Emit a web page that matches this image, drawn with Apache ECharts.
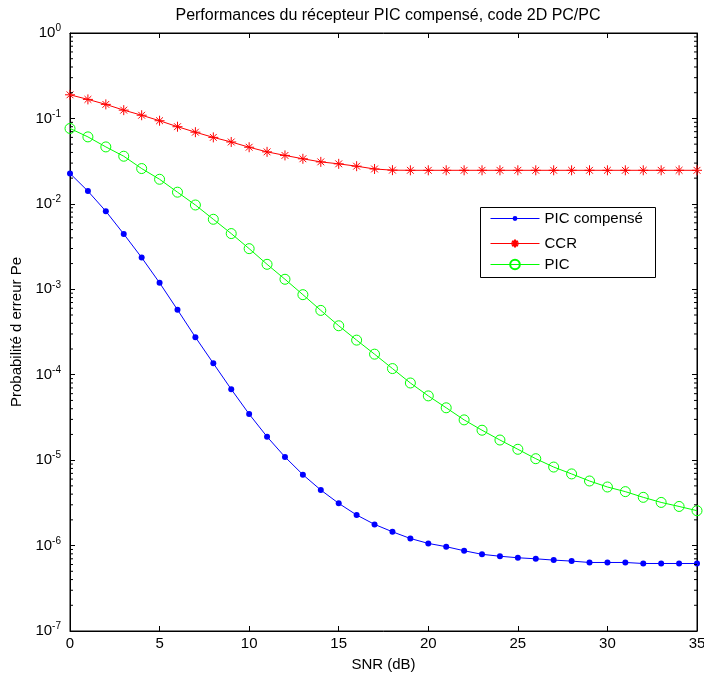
<!DOCTYPE html>
<html>
<head>
<meta charset="utf-8">
<script src="https://cdn.jsdelivr.net/npm/echarts@6/dist/echarts.min.js"></script>
<style>html,body{margin:0;padding:0;background:#fff}#c{width:704px;height:673px}</style>
</head>
<body>
<div id="c"></div>
<script>
const snr = [0,1,2,3,4,5,6,7,8,9,10,11,12,13,14,15,16,17,18,19,20,21,22,23,24,25,26,27,28,29,30,31,32,33,34,35];
const picComp = [0.0227,0.0141,0.0082,0.00444,0.00235,0.00119,5.76e-4,2.75e-4,1.36e-4,6.76e-5,3.46e-5,1.88e-5,1.09e-5,6.76e-6,4.47e-6,3.12e-6,2.28e-6,1.77e-6,1.45e-6,1.21e-6,1.06e-6,9.7e-7,8.7e-7,7.9e-7,7.5e-7,7.2e-7,7.0e-7,6.76e-7,6.58e-7,6.34e-7,6.34e-7,6.34e-7,6.17e-7,6.17e-7,6.17e-7,6.17e-7];
const ccr = [0.189,0.167,0.146,0.125,0.109,0.094,0.080,0.069,0.060,0.053,0.046,0.0406,0.0369,0.0337,0.0310,0.0294,0.0276,0.0256,0.0248,0.0247,0.0247,0.0247,0.0247,0.0247,0.0247,0.0247,0.0247,0.0247,0.0247,0.0247,0.0247,0.0247,0.0247,0.0247,0.0247,0.0247];
const pic = [0.0763,0.0608,0.0464,0.0361,0.0259,0.0194,0.0137,0.0097,0.0066,0.00449,0.00299,0.00196,0.00131,8.65e-4,5.66e-4,3.74e-4,2.54e-4,1.74e-4,1.18e-4,8.0e-5,5.65e-5,4.1e-5,2.96e-5,2.24e-5,1.72e-5,1.34e-5,1.04e-5,8.3e-6,6.9e-6,5.7e-6,4.85e-6,4.28e-6,3.67e-6,3.2e-6,2.87e-6,2.56e-6];
const seriesNames = ['PIC compensé', 'CCR', 'PIC'];
const xTicks = [0,5,10,15,20,25,30,35];
const yExponents = [0,-1,-2,-3,-4,-5,-6,-7];
const minorMantissas = [2,3,4,5,6,7,8,9];

const minorTickValues = [];
for (let e = -7; e < 0; e++) minorMantissas.forEach(m => minorTickValues.push(m * Math.pow(10, e)));

const FONT = 'Liberation Sans, Arial, sans-serif';
const chart = echarts.init(document.getElementById('c'), null, {renderer: 'canvas'});

function pairs(arr) { return snr.map((x, i) => [x, arr[i]]); }

const starPath = 'path://M5 0 L5 10 M0 5 L10 5 M1.6 1.6 L8.4 8.4 M8.4 1.6 L1.6 8.4';

const yLabelFmt = v => '10{s|' + Math.round(Math.log10(v)) + '}';

function legendFor(name, top, h) {
  return {
    orient: 'vertical', left: 490, top: top, padding: 0,
    itemWidth: 49, itemHeight: h, z: 20,
    lineStyle: {width: 1},
    textStyle: {fontFamily: FONT, fontSize: 15, color: '#000'},
    data: [name]
  };
}

chart.setOption({
  animation: false,
  backgroundColor: '#fff',
  title: {
    text: 'Performances du récepteur PIC compensé, code 2D PC/PC',
    left: 383, top: 3, textAlign: 'center',
    textStyle: {fontFamily: FONT, fontSize: 16, fontWeight: 'normal', color: '#000'}
  },
  graphic: [{
    type: 'rect', left: 480, top: 207, z: 10,
    shape: {width: 175, height: 70},
    style: {fill: '#fff', stroke: '#000', lineWidth: 1}
  }],
  legend: [
    legendFor(seriesNames[0], 211, 6),
    legendFor(seriesNames[1], 236, 10),
    legendFor(seriesNames[2], 257, 12)
  ],
  grid: {left: 70, right: 7, top: 33, bottom: 42, outerBoundsMode: 'none', containLabel: false,
         show: true, borderColor: '#000', borderWidth: 1},
  xAxis: [{
    type: 'value', min: 0, max: 35, interval: 5,
    name: 'SNR (dB)', nameLocation: 'middle', nameGap: 26,
    nameTextStyle: {fontFamily: FONT, fontSize: 15, color: '#000'},
    axisLine: {onZero: false, lineStyle: {color: '#000', width: 1}},
    axisTick: {inside: true, length: 5, lineStyle: {color: '#000'}},
    axisLabel: {fontFamily: FONT, fontSize: 15, color: '#000', margin: 5},
    splitLine: {show: false}
  }, {
    type: 'value', min: 0, max: 35, interval: 5, position: 'top',
    axisLine: {onZero: false, lineStyle: {color: '#000'}},
    axisTick: {inside: true, length: 5, lineStyle: {color: '#000'}},
    axisLabel: {show: false}, splitLine: {show: false}
  }],
  yAxis: [{
    type: 'log', logBase: 10, min: 1e-7, max: 1,
    name: 'Probabilité d erreur Pe', nameLocation: 'middle', nameGap: 43, nameRotate: 90,
    nameTextStyle: {fontFamily: FONT, fontSize: 15, color: '#000'},
    axisLine: {onZero: false, lineStyle: {color: '#000', width: 1}},
    axisTick: {inside: true, length: 5, lineStyle: {color: '#000'}},
    minorTick: {show: false},
    axisLabel: {
      fontFamily: FONT, fontSize: 15, color: '#000', margin: 9,
      formatter: yLabelFmt,
      rich: {s: {fontFamily: FONT, fontSize: 10, color: '#000', verticalAlign: 'top', padding: [0, 0, 9, 0]}}
    },
    splitLine: {show: false}
  }, {
    type: 'log', logBase: 10, min: 1e-7, max: 1, position: 'right',
    axisLine: {onZero: false, lineStyle: {color: '#000'}},
    axisTick: {inside: true, length: 5, lineStyle: {color: '#000'}},
    axisLabel: {show: false}, splitLine: {show: false}
  }],
  series: [{
    name: seriesNames[0], type: 'line', data: pairs(picComp),
    symbol: 'circle', symbolSize: 6, showAllSymbol: true,
    lineStyle: {color: '#0000ff', width: 1}, itemStyle: {color: '#0000ff'}, z: 5
  }, {
    name: seriesNames[1], type: 'line', data: pairs(ccr),
    symbol: starPath, symbolSize: 10, showAllSymbol: true,
    lineStyle: {color: '#ff0000', width: 1},
    itemStyle: {color: '#ff0000', borderColor: '#ff0000', borderWidth: 1}, z: 4
  }, {
    name: seriesNames[2], type: 'line', data: pairs(pic),
    symbol: 'circle', symbolSize: 10, showAllSymbol: true,
    lineStyle: {color: '#00ff00', width: 1},
    itemStyle: {color: 'rgba(0,0,0,0)', borderColor: '#00ff00', borderWidth: 1}, z: 3
  }, {
    type: 'custom', silent: true, clip: false, z: 10,
    data: minorTickValues.map(v => [0, v]),
    renderItem: (params, api) => {
      const v = api.value(1);
      const pl = api.coord([0, v]);
      const pr = api.coord([35, v]);
      return {type: 'group', children: [
        {type: 'line', shape: {x1: pl[0], y1: pl[1], x2: pl[0] + 3, y2: pl[1]}, style: {stroke: '#000', lineWidth: 1}},
        {type: 'line', shape: {x1: pr[0], y1: pr[1], x2: pr[0] - 3, y2: pr[1]}, style: {stroke: '#000', lineWidth: 1}}
      ]};
    }
  }]
});
</script>
</body>
</html>
